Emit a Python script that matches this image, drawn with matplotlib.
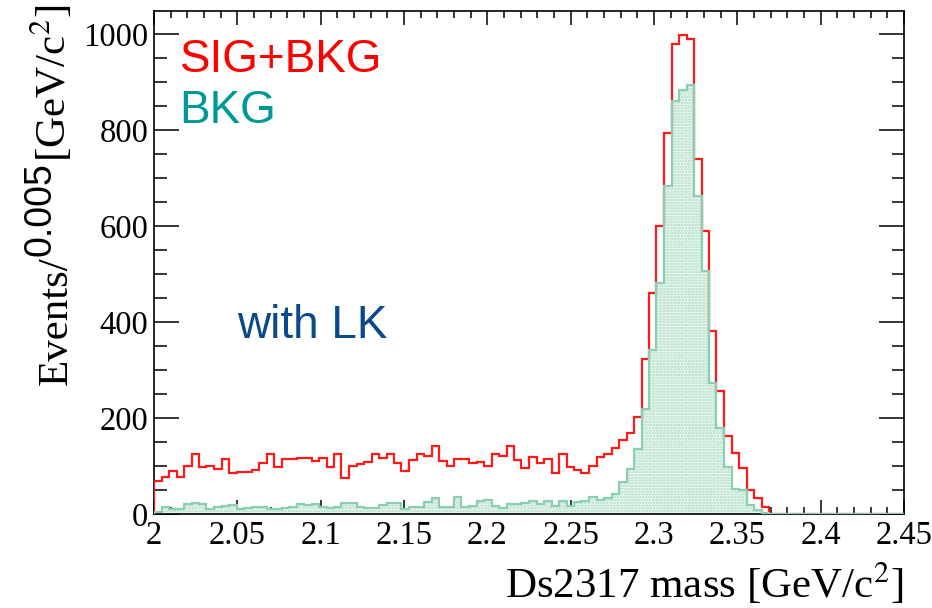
import numpy as np
import matplotlib
matplotlib.use("Agg")
import matplotlib.pyplot as plt
from matplotlib.ticker import MultipleLocator, FuncFormatter

plt.rcParams['font.family'] = ['Liberation Serif', 'DejaVu Serif']
plt.rcParams['mathtext.fontset'] = 'stix'
plt.rcParams['hatch.linewidth'] = 1.2

# 100 bins between 2.0 and 2.45 GeV/c^2
x_lo, x_hi, n_bins = 2.0, 2.45, 100

sig_bkg = [69, 78, 90, 78, 101, 124, 98, 101, 94, 115,
           85, 87, 87, 92, 106, 126, 97, 115, 115, 117,
           117, 111, 117, 97, 126, 74, 101, 105, 108, 124,
           117, 124, 107, 89, 112, 126, 120, 142, 110, 100,
           115, 115, 106, 109, 101, 124, 120, 142, 113, 95,
           119, 106, 115, 85, 124, 97, 92, 85, 99, 119,
           124, 138, 155, 168, 203, 323, 460, 600, 794, 980,
           997, 990, 739, 590, 382, 257, 163, 127, 95, 50,
           34, 15, 0, 0, 0, 0, 0, 0, 0, 0,
           0, 0, 0, 0, 0, 0, 0, 0, 0, 0]

bkg = [5, 14, 10, 10, 21, 22, 21, 10, 15, 17,
       19, 10, 12, 15, 15, 10, 10, 12, 14, 21,
       18, 21, 14, 12, 14, 22, 22, 14, 12, 12,
       19, 22, 22, 10, 14, 14, 24, 33, 14, 14,
       35, 14, 17, 28, 29, 17, 12, 21, 21, 22,
       27, 21, 27, 17, 27, 17, 26, 27, 35, 30,
       33, 41, 67, 94, 136, 218, 342, 482, 684, 860,
       884, 893, 663, 506, 272, 179, 98, 52, 49, 19,
       9, 3, 0, 0, 0, 0, 0, 0, 0, 0,
       0, 0, 0, 0, 0, 0, 0, 0, 0, 0]

edges = np.linspace(x_lo, x_hi, n_bins + 1)

W, H = 932, 608
fig = plt.figure(figsize=(W / 100, H / 100), dpi=100)
ax = fig.add_axes([154 / W, 1 - 514 / H, 750 / W, 503 / H])

green = '#8ccfb0'
ax.stairs(sig_bkg, edges, color='#ff1a1a', lw=1.6, zorder=3)
ax.stairs(bkg, edges, fill=True, facecolor='#f3faf6', edgecolor='#a5d9c1',
          hatch='......', lw=0, zorder=2)
ax.stairs(bkg, edges, color=green, lw=1.6, zorder=4)

ax.set_xlim(x_lo, x_hi)
ax.set_ylim(0, 1048)

ax.xaxis.set_major_locator(MultipleLocator(0.05))
ax.xaxis.set_minor_locator(MultipleLocator(0.01))
ax.yaxis.set_major_locator(MultipleLocator(200))
ax.yaxis.set_minor_locator(MultipleLocator(50))
ax.xaxis.set_major_formatter(FuncFormatter(lambda v, p: '%g' % round(v, 3)))

ax.tick_params(which='both', direction='in', top=True, right=True,
               width=1.1, labelsize=23.5, colors='black')
ax.tick_params(axis='x', which='major', length=10, pad=5)
ax.tick_params(axis='x', which='minor', length=5)
ax.tick_params(axis='y', which='major', length=18, pad=4)
ax.tick_params(axis='y', which='minor', length=9)
for s in ax.spines.values():
    s.set_linewidth(1.2)

# legend-like labels
sans = ['Liberation Sans', 'DejaVu Sans']
ax.text(2.0154, 921, 'SIG+BKG', color='#ff0000', family=sans, size=33,
        va='baseline')
ax.text(2.0154, 815, 'BKG', color='#009999', family=sans, size=33,
        va='baseline')
ax.text(2.050, 367, 'with LK', color='#0a4a8c', family=sans, size=33,
        va='baseline')

# x title, right aligned to the frame
fig.text(904 / W, 1 - 598 / H, 'Ds2317 mass [GeV/c$^{2}$]', ha='right',
         va='baseline', size=31)

# y title built from three pieces stacked upward
fig.canvas.draw()
rend = fig.canvas.get_renderer()
t1 = fig.text(67 / W, 1 - 385 / H, 'Events/', rotation=90, rotation_mode='anchor',
              ha='left', va='baseline', size=31)
y_top = t1.get_window_extent(rend).y1
t2 = fig.text(50 / W, y_top / H, '0.005', rotation=90, rotation_mode='anchor',
              ha='left', va='baseline', size=27, family=sans)
y_top = t2.get_window_extent(rend).y1
fig.text(66 / W, y_top / H, '[GeV/c$^{2}$]', rotation=90, rotation_mode='anchor',
         ha='left', va='baseline', size=31)

fig.savefig('out.png', dpi=100)
